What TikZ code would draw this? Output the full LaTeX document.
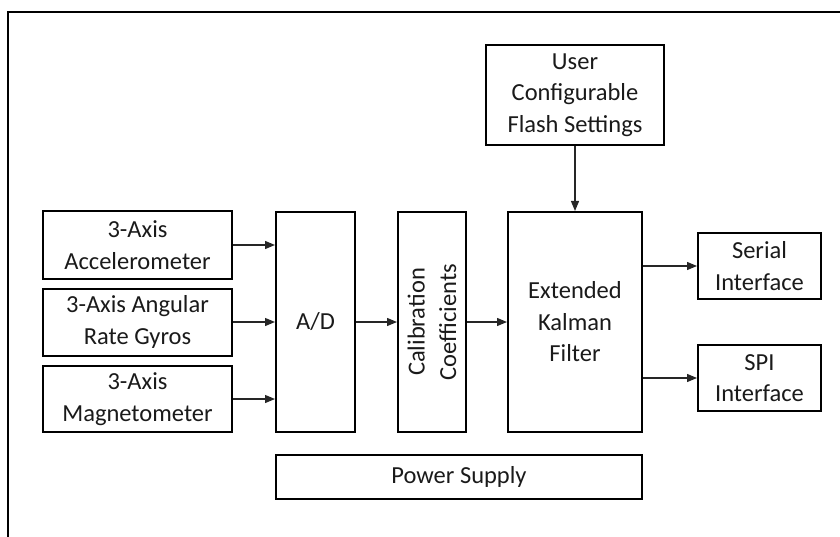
\documentclass[tikz,border=0pt]{standalone}
\usepackage{fontspec}
\setmainfont{Carlito}
\usetikzlibrary{arrows.meta}
\definecolor{txt}{HTML}{1A1A1A}
\tikzset{
  blk/.style={draw=black, line width=2pt, fill=white, align=center, text=txt,
    inner sep=0pt, font=\fontsize{24.5}{31.5}\selectfont},
  conn/.style={draw=black!85, line width=1.2pt, -{Triangle[length=10pt,width=8pt]}}
}
\begin{document}
\begin{tikzpicture}[x=1pt,y=-1pt]
\useasboundingbox (0,0) rectangle (840,537);
\coordinate (ob) at (8,540);
\coordinate (oc) at (8,12);
\coordinate (or) at (843,12);
\draw[line width=2pt] (ob) -- (oc) -- (or);

\node[blk, minimum width=178pt, minimum height=100pt] (user) at (575,95) {User\\Configurable\\Flash Settings};
\node[blk, minimum width=189pt, minimum height=67pt] (acc) at (137.5,245) {3-Axis\\Accelerometer};
\node[blk, minimum width=189pt, minimum height=67pt] (gyr) at (137.5,322) {3-Axis Angular\\Rate Gyros};
\node[blk, minimum width=189pt, minimum height=66pt] (mag) at (137.5,399) {3-Axis\\Magnetometer};
\node[blk, minimum width=79pt, minimum height=220pt] (ad) at (315.5,322) {A/D};
\node[blk, minimum width=68pt, minimum height=220pt] (cal) at (432,322) {};
\node[text=txt, align=center, rotate=90, inner sep=0pt, font=\fontsize{24.5}{31.5}\selectfont] (calt) at (cal.center) {Calibration\\Coefficients};
\node[blk, minimum width=134pt, minimum height=220pt] (ekf) at (575,322) {Extended\\Kalman\\Filter};
\node[blk, minimum width=123pt, minimum height=66pt] (ser) at (759.5,266) {Serial\\Interface};
\node[blk, minimum width=123pt, minimum height=66pt] (spi) at (759.5,378) {SPI\\Interface};
\node[blk, minimum width=366pt, minimum height=44pt] (pwr) at (459,477) {Power Supply};

\draw[conn] (acc.east) -- (acc.east -| ad.west);
\draw[conn] (gyr.east) -- (gyr.east -| ad.west);
\draw[conn] (mag.east) -- (mag.east -| ad.west);
\draw[conn] (ad.east) -- (cal.west);
\draw[conn] (cal.east) -- (ekf.west);
\draw[conn] (user.south) -- (ekf.north);
\draw[conn] (ser.west -| ekf.east) -- (ser.west);
\draw[conn] (spi.west -| ekf.east) -- (spi.west);
\end{tikzpicture}
\end{document}
